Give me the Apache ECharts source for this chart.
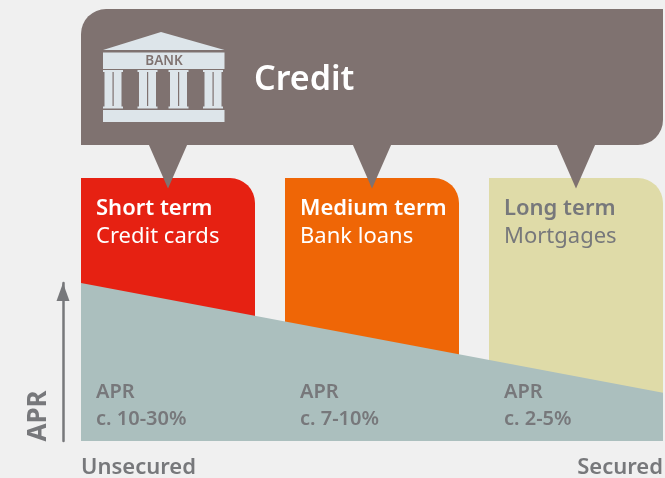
<!DOCTYPE html>
<html>
<head>
<meta charset="utf-8">
<style>
  html, body { margin: 0; padding: 0; background: #f0f0f0; }
  #chart { width: 665px; height: 478px; }
</style>
<script src="https://cdn.jsdelivr.net/npm/echarts@6/dist/echarts.min.js"></script>
</head>
<body>
<div id="chart"></div>
<script>
  var terms = ['Short term', 'Medium term', 'Long term'];
  var products = ['Credit cards', 'Bank loans', 'Mortgages'];
  var aprRanges = ['c. 10-30%', 'c. 7-10%', 'c. 2-5%'];
  var columnHeights = [100, 100, 100];
  var pointerTips = [96, 96, 96];
  var columnColors = ['#e62112', '#ef6606', '#dfdba8'];
  var termTextColors = ['#ffffff', '#ffffff', '#77787b'];

  var securityPoints = [0, 100];
  var securityLabels = ['Unsecured', 'Secured'];
  var aprLevels = [100, 30.5];

  var FONT = '"Noto Sans", sans-serif';
  var BROWN = '#7f7270';
  var ICON = '#dde5ea';
  var GREY = '#77787b';

  var chart = echarts.init(document.getElementById('chart'));

  // bank icon, four pillars on a base
  function pillar(x) {
    return [
      { type: 'rect', z: 6, shape: { x: x, y: 70, width: 20, height: 2 }, style: { fill: ICON } },
      { type: 'rect', z: 6, shape: { x: x + 1.5, y: 72, width: 17, height: 35 }, style: { fill: ICON } },
      { type: 'rect', z: 6, shape: { x: x, y: 106.5, width: 20, height: 2 }, style: { fill: ICON } },
      { type: 'rect', z: 7, shape: { x: x + 9.5, y: 72, width: 1.2, height: 34 }, style: { fill: BROWN } }
    ];
  }
  var bankIcon = [
    { type: 'polygon', z: 6, shape: { points: [[103, 50], [161, 32], [224.5, 50]] }, style: { fill: ICON } },
    { type: 'rect', z: 6, shape: { x: 103, y: 52.5, width: 121.5, height: 16.5 }, style: { fill: ICON } },
    { type: 'rect', z: 6, shape: { x: 103, y: 110, width: 121.5, height: 12 }, style: { fill: ICON } },
    { type: 'text', z: 7, x: 164, y: 61, style: { text: 'BANK', fill: BROWN, font: '600 13.5px ' + FONT, align: 'center', verticalAlign: 'middle' } }
  ].concat(pillar(103), pillar(137.5), pillar(168.5), pillar(203));

  var option = {
    backgroundColor: '#f0f0f0',
    animation: false,
    textStyle: { fontFamily: FONT },
    grid: [
      { left: 66, width: 612, top: 178, height: 263, outerBoundsMode: 'none' },
      { left: 81, width: 582, top: 283, height: 158, outerBoundsMode: 'none' }
    ],
    xAxis: [
      { type: 'category', data: terms, gridIndex: 0, show: false },
      {
        type: 'value', gridIndex: 1, min: 0, max: 100, interval: 100,
        axisLine: { show: false }, axisTick: { show: false }, splitLine: { show: false },
        axisLabel: {
          margin: 16, color: GREY, fontSize: 22, fontWeight: 600, fontFamily: FONT,
          alignMinLabel: 'left', alignMaxLabel: 'right',
          formatter: function(v) { return securityLabels[securityPoints.indexOf(v)]; }
        }
      }
    ],
    yAxis: [
      { type: 'value', gridIndex: 0, min: 0, max: 100, show: false },
      {
        type: 'value', gridIndex: 1, min: 0, max: 100, position: 'left', offset: 18,
        splitLine: { show: false }, axisTick: { show: false }, axisLabel: { show: false },
        axisLine: {
          show: true, onZero: false,
          symbol: ['none', 'triangle'], symbolSize: [13, 18], symbolOffset: [0, -9],
          lineStyle: { color: GREY, width: 2.5 }
        }
      }
    ],
    graphic: bankIcon.concat([
      {
        type: 'rect', z: 1,
        shape: { x: 81, y: 9, width: 582, height: 136, r: [25, 0, 25, 0] },
        style: { fill: BROWN }
      },
      { type: 'text', z: 6, x: 254, y: 80, style: { text: 'Credit', fill: '#ffffff', font: '600 34px ' + FONT, verticalAlign: 'middle' } },
      { type: 'text', z: 6, x: 39, y: 416, rotation: Math.PI / 2, style: { text: 'APR', fill: GREY, font: '700 26px ' + FONT, align: 'center', verticalAlign: 'middle' } }
    ]),
    series: [
      {
        type: 'bar', z: 2, barWidth: 174, silent: true,
        data: columnHeights.map(function(v, i) {
          return {
            value: v,
            itemStyle: { color: columnColors[i], borderRadius: [0, 25, 0, 0] },
            label: {
              show: true, position: [15, 17],
              formatter: '{t|' + terms[i] + '}\n{p|' + products[i] + '}',
              rich: {
                t: { fontSize: 22, fontWeight: 600, lineHeight: 28, color: termTextColors[i], fontFamily: FONT },
                p: { fontSize: 22, lineHeight: 28, color: termTextColors[i], fontFamily: FONT }
              }
            }
          };
        })
      },
      {
        // speech bubble pointers from the credit box down to each column
        type: 'custom', z: 3, silent: true,
        data: pointerTips.map(function(v, i) { return [i, v]; }),
        encode: { x: 0, y: 1 },
        renderItem: function(params, api) {
          var tip = api.coord([api.value(0), api.value(1)]);
          return {
            type: 'polygon',
            shape: { points: [[tip[0] - 19.5, 144], [tip[0] + 19.5, 144], tip] },
            style: { fill: BROWN }
          };
        }
      },
      {
        type: 'line', xAxisIndex: 1, yAxisIndex: 1, z: 4, silent: true,
        symbol: 'none', lineStyle: { width: 0 },
        areaStyle: { color: '#abbfbe', opacity: 1 },
        data: securityPoints.map(function(x, i) { return [x, aprLevels[i]]; })
      },
      {
        // invisible overlay, only carries the APR labels above the wedge
        type: 'bar', z: 5, barWidth: 174, barGap: '-100%', silent: true,
        itemStyle: { color: 'transparent' },
        data: columnHeights.map(function(v, i) {
          return {
            value: v,
            label: {
              show: true, position: [15, 201],
              formatter: '{a|APR}\n{a|' + aprRanges[i] + '}',
              rich: { a: { fontSize: 20, fontWeight: 600, lineHeight: 27, color: GREY, fontFamily: FONT } }
            }
          };
        })
      }
    ]
  };
  chart.setOption(option);
</script>
</body>
</html>
